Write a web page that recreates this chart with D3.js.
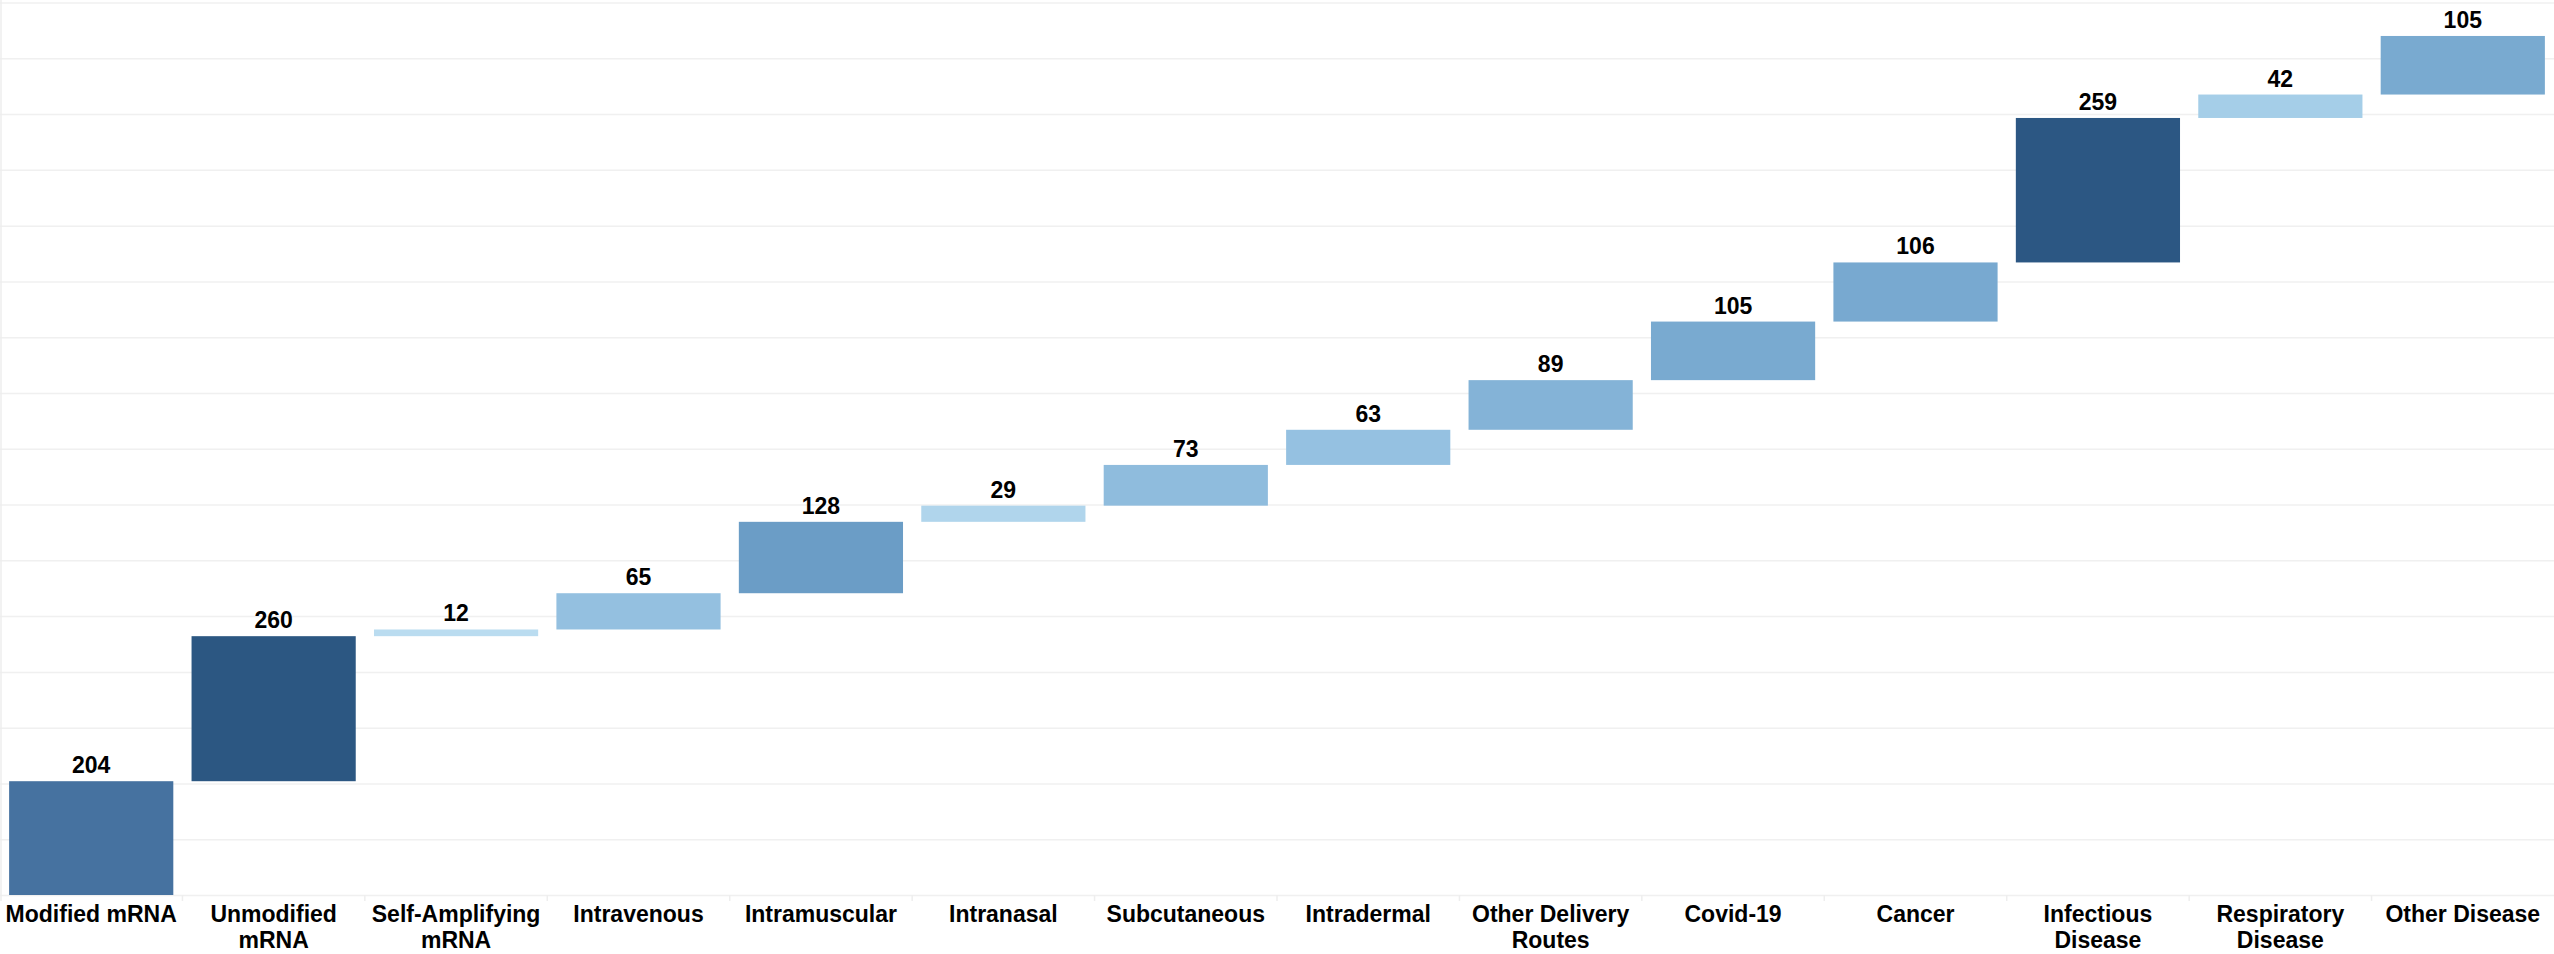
<!DOCTYPE html>
<html>
<head>
<meta charset="utf-8">
<script src="https://cdn.jsdelivr.net/npm/d3@7"></script>
<style>
  html, body { margin: 0; padding: 0; background: #ffffff; }
  svg { display: block; }
  text { font-family: "Liberation Sans", Arial, sans-serif; font-weight: bold; fill: #000; }
</style>
</head>
<body>
<svg id="chart" width="2554" height="954"></svg>
<script>
// Categories (in order) and the increment each one adds to the running total
const categories = [
  "Modified mRNA", "Unmodified mRNA", "Self-Amplifying mRNA", "Intravenous",
  "Intramuscular", "Intranasal", "Subcutaneous", "Intradermal",
  "Other Delivery Routes", "Covid-19", "Cancer", "Infectious Disease",
  "Respiratory Disease", "Other Disease"
];
const values = [204, 260, 12, 65, 128, 29, 73, 63, 89, 105, 106, 259, 42, 105];
const gridTicks = d3.range(0, 1601, 100);

const W = 2554, H = 954;
const plot = { left: 0, right: 2554, top: 2.5, bottom: 895 };

// Waterfall steps: each bar floats from the previous cumulative total
let running = 0;
const steps = categories.map((c, i) => {
  const start = running;
  running += values[i];
  return { cat: c, value: values[i], start, end: running };
});

const x = d3.scaleBand()
  .domain(categories)
  .range([plot.left, plot.right])
  .paddingInner(0.1)
  .paddingOuter(0.05);

const y = d3.scaleLinear()
  .domain([0, 1600])
  .range([plot.bottom, plot.top]);

// Bar fill darkens with the size of the increment
const color = d3.scaleLinear()
  .domain([12, 29, 42, 65, 89, 105, 128, 204, 260])
  .range(["#badcf0", "#b0d5ec", "#a5cee8", "#94c0e0", "#84b3d7", "#79aad0", "#6b9dc6", "#4672a0", "#2c5782"])
  .clamp(true);

const svg = d3.select("#chart");

// Horizontal gridlines
svg.append("g")
  .attr("transform", `translate(${plot.left},0)`)
  .call(d3.axisLeft(y).tickValues(gridTicks).tickSize(-(plot.right - plot.left)).tickFormat(""))
  .call(g => g.select(".domain").remove())
  .call(g => g.selectAll(".tick line").attr("stroke", "#f0f0f0").attr("stroke-width", 1.5));

// Left frame line and category boundary ticks
const bounds = categories.map(c => x(c) - x.step() * x.paddingInner() / 2);
bounds[0] = 1;
svg.append("line")
  .attr("x1", 1).attr("x2", 1)
  .attr("y1", 0).attr("y2", plot.bottom + 6)
  .attr("stroke", "#eeeeee").attr("stroke-width", 1.5);
svg.append("g").selectAll("line")
  .data(bounds.slice(1))
  .join("line")
  .attr("x1", d => d).attr("x2", d => d)
  .attr("y1", plot.bottom).attr("y2", plot.bottom + 6)
  .attr("stroke", "#eeeeee").attr("stroke-width", 1.5);

// Bars
svg.append("g").selectAll("rect")
  .data(steps)
  .join("rect")
  .attr("x", d => x(d.cat))
  .attr("width", x.bandwidth())
  .attr("y", d => y(d.end))
  .attr("height", d => y(d.start) - y(d.end))
  .attr("fill", d => color(d.value));

// Value labels above each bar
svg.append("g").selectAll("text")
  .data(steps)
  .join("text")
  .attr("x", d => x(d.cat) + x.bandwidth() / 2)
  .attr("y", d => y(d.end) - 8)
  .attr("text-anchor", "middle")
  .style("font-size", "23px")
  .text(d => d.value);

// Category axis labels, wrapped to the band width
const xAxis = svg.append("g")
  .attr("transform", `translate(0,${plot.bottom})`)
  .call(d3.axisBottom(x).tickSize(0).tickPadding(0))
  .call(g => g.select(".domain").remove());

xAxis.selectAll(".tick text")
  .attr("y", 0)
  .attr("dy", null)
  .style("font-size", "23px")
  .style("font-family", "'Liberation Sans', Arial, sans-serif")
  .style("font-weight", "bold")
  .attr("fill", "#000")
  .each(function () { wrap(d3.select(this), x.step()); });

function wrap(textSel, width) {
  const words = textSel.text().split(/\s+/);
  textSel.text(null);
  let line = [];
  let lineNo = 0;
  let tspan = textSel.append("tspan").attr("x", 0).attr("y", 26.7);
  for (const w of words) {
    line.push(w);
    tspan.text(line.join(" "));
    if (tspan.node().getComputedTextLength() > width - 4 && line.length > 1) {
      line.pop();
      tspan.text(line.join(" "));
      line = [w];
      lineNo += 1;
      tspan = textSel.append("tspan").attr("x", 0).attr("y", 26.7 + lineNo * 26).text(w);
    }
  }
}
</script>
</body>
</html>
